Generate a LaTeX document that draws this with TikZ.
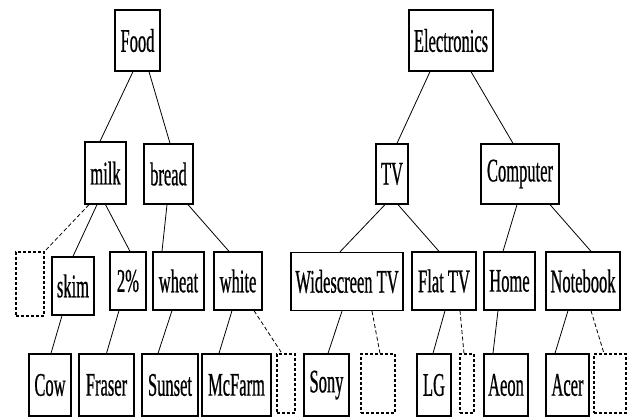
\documentclass[tikz,border=0pt]{standalone}
\usepackage{fontspec}
\setmainfont[FakeStretch=0.5, FakeBold=0.6]{Liberation Serif}
\begin{document}
\begin{tikzpicture}[x=1pt, y=-1pt,
    box/.style={draw, line width=1.3pt, inner sep=0pt, font=\fontsize{33}{36}\selectfont},
    hole/.style={draw, line width=1.1pt, dash pattern=on 3pt off 2pt, inner sep=0pt},
    link/.style={line width=0.8pt},
    gap/.style={link, dash pattern=on 4pt off 2.5pt}]
    \useasboundingbox (0,0) rectangle (630,419);

    % top level
    \node[box, minimum width=45, minimum height=61] (food) at (137.5,40.5) {Food};
    \node[box, minimum width=84, minimum height=61] (elec) at (451,40.5) {Electronics};

    % second level
    \node[box, minimum width=41, minimum height=62] (milk) at (105.5,173) {milk};
    \node[box, minimum width=49, minimum height=60] (bread) at (168.5,174) {bread};
    \node[box, minimum width=32, minimum height=60] (tv) at (392,174) {TV};
    \node[box, minimum width=78, minimum height=60] (comp) at (520,174) {Computer};

    % third level
    \node[hole, minimum width=28, minimum height=64] (holeA) at (30,284) {};
    \node[box, minimum width=42, minimum height=58] (skim) at (73,286) {skim};
    \node[box, minimum width=36, minimum height=58] (pct) at (128,281) {2\%};
    \node[box, minimum width=51, minimum height=58] (wheat) at (178.5,281) {wheat};
    \node[box, minimum width=48, minimum height=58] (white) at (238,281) {white};
    \node[box, minimum width=112, minimum height=58] (wide) at (347,281.5) {Widescreen TV};
    \node[box, minimum width=64, minimum height=58] (flat) at (444,281) {Flat TV};
    \node[box, minimum width=51, minimum height=58] (home) at (509.5,281) {Home};
    \node[box, minimum width=74, minimum height=58] (note) at (583,281) {Notebook};

    % bottom level
    \node[box, minimum width=42, minimum height=62] (cow) at (50,385) {Cow};
    \node[box, minimum width=55, minimum height=62] (fraser) at (106.5,385) {Fraser};
    \node[box, minimum width=56, minimum height=62] (sunset) at (170,385) {Sunset};
    \node[box, minimum width=69, minimum height=62] (mcfarm) at (236.5,385) {McFarm};
    \node[hole, minimum width=18, minimum height=59] (holeB) at (286,383.5) {};
    \node[box, minimum width=45, minimum height=62] (sony) at (326.5,385) {Sony};
    \node[hole, minimum width=34, minimum height=59] (holeC) at (378,383.5) {};
    \node[box, minimum width=34, minimum height=62] (lg) at (434,385) {LG};
    \node[hole, minimum width=14, minimum height=59] (holeD) at (467,383.5) {};
    \node[box, minimum width=44, minimum height=62] (aeon) at (506,385) {Aeon};
    \node[box, minimum width=43, minimum height=62] (acer) at (567.5,385) {Acer};
    \node[hole, minimum width=32, minimum height=59] (holeE) at (610,383.5) {};

    \draw[link] ([xshift=-4.5]food.south) -- ([xshift=-5.5]milk.north);
    \draw[link] ([xshift=11.5]food.south) -- ([xshift=1.5]bread.north);
    \draw[link] ([xshift=-21]elec.south) -- ([xshift=5]tv.north);
    \draw[link] ([xshift=20]elec.south) -- ([xshift=-7]comp.north);

    \draw[gap] ([xshift=-16.5]milk.south) -- (holeA.north east);
    \draw[link] ([xshift=-8.5]milk.south) -- (skim.north);
    \draw[link] (milk.south) -- ([xshift=2]pct.north);
    \draw[link] ([xshift=-1.5]bread.south) -- ([xshift=-16.5]wheat.north);
    \draw[link] ([xshift=19.5]bread.south) -- ([xshift=-9]white.north);
    \draw[link] ([xshift=-7]tv.south) -- ([xshift=-7]wide.north);
    \draw[link] ([xshift=6]tv.south) -- ([xshift=-5]flat.north);
    \draw[link] ([xshift=-3]comp.south) -- ([xshift=-6.5]home.north);
    \draw[link] ([xshift=30]comp.south) -- ([xshift=8]note.north);

    \draw[link] ([xshift=-11]skim.south) -- ([xshift=1]cow.north);
    \draw[link] ([xshift=-9]pct.south) -- (fraser.north);
    \draw[link] ([xshift=-6.5]wheat.south) -- ([xshift=-12]sunset.north);
    \draw[link] ([xshift=-6]white.south) -- ([xshift=-17.5]mcfarm.north);
    \draw[gap] ([xshift=16]white.south) -- ([xshift=-4]holeB.north);
    \draw[link] ([xshift=-5]wide.south) -- ([xshift=1.5]sony.north);
    \draw[gap] ([xshift=25]wide.south) -- ([xshift=2]holeC.north);
    \draw[link] ([xshift=1]flat.south) -- ([xshift=-1]lg.north);
    \draw[gap] ([xshift=16]flat.south) -- ([xshift=-3]holeD.north);
    \draw[link] ([xshift=-11.5]home.south) -- ([xshift=-13]aeon.north);
    \draw[link] ([xshift=-15]note.south) -- ([xshift=-12.5]acer.north);
    \draw[gap] ([xshift=8]note.south) -- ([xshift=-6]holeE.north);
\end{tikzpicture}
\end{document}
